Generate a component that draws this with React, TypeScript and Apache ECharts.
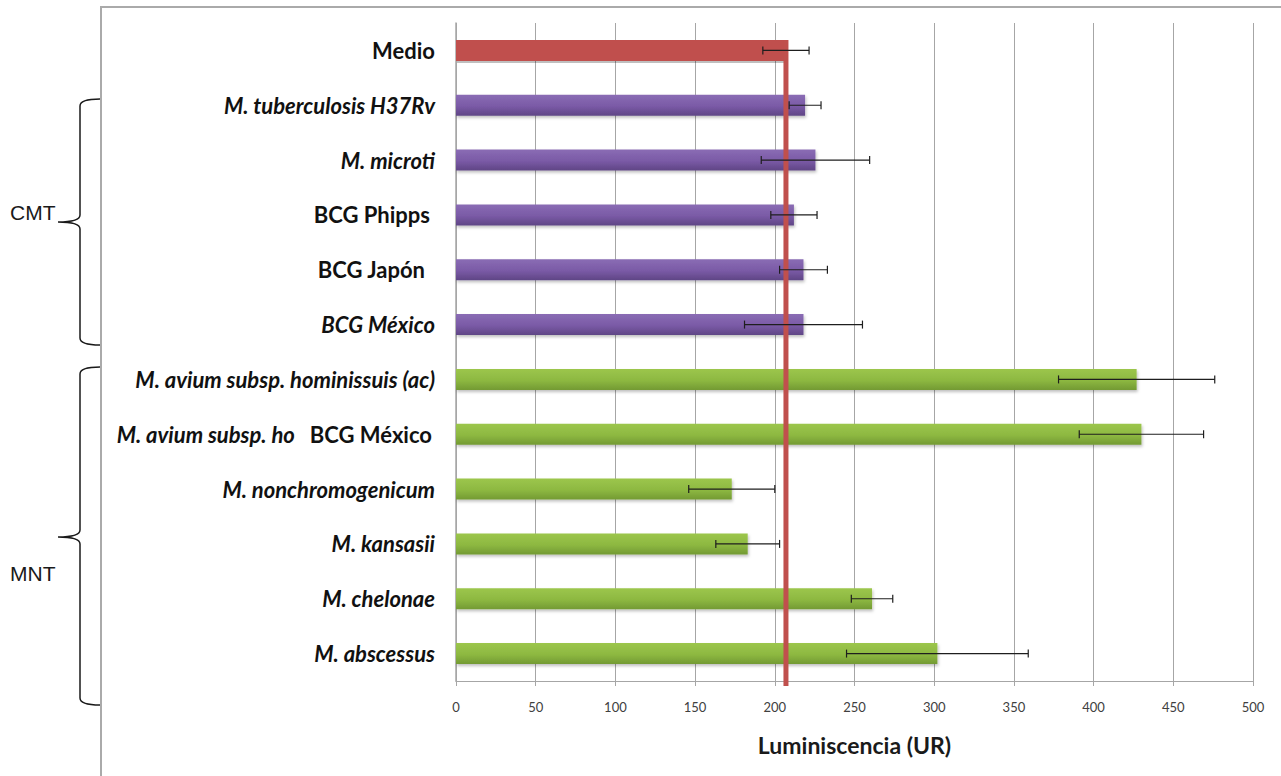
import React, { useEffect, useRef } from "react";
import * as echarts from "echarts";

// Strains on the vertical axis, top to bottom
const categories = [
  "Medio",
  "M. tuberculosis H37Rv",
  "M. microti",
  "BCG Phipps",
  "BCG Japón",
  "BCG México",
  "M. avium subsp. hominissuis (ac)",
  "M. avium subsp. ho BCG México",
  "M. nonchromogenicum",
  "M. kansasii",
  "M. chelonae",
  "M. abscessus",
];

// Mean luminescence (UR) and its error
const values = [207, 219, 225.5, 212, 218, 218, 427, 430, 173, 183, 261, 302];
const errors = [14.5, 10, 34, 14.5, 15, 37, 49, 39, 27, 20, 13, 57];

// Group of each strain: medium, tuberculosis complex, non-tuberculous
const groups = ["medio", "cmt", "cmt", "cmt", "cmt", "cmt", "mnt", "mnt", "mnt", "mnt", "mnt", "mnt"];

const xTicks = { min: 0, max: 500, interval: 50 };

const FONT = "Lato, 'Open Sans', sans-serif";

const groupColor: Record<string, any> = {
  medio: "#c0504d",
  cmt: new echarts.graphic.LinearGradient(0, 0, 0, 1, [
    { offset: 0, color: "#8a6cb4" },
    { offset: 0.55, color: "#7a5aa6" },
    { offset: 1, color: "#5f4585" },
  ]),
  mnt: new echarts.graphic.LinearGradient(0, 0, 0, 1, [
    { offset: 0, color: "#9cc64c" },
    { offset: 0.55, color: "#8db841" },
    { offset: 1, color: "#739a33" },
  ]),
};

// Curly braces grouping the strains
echarts.graphic.registerShape(
  "braceCmt",
  echarts.graphic.extendPath(
    "M100 99 Q80 99 80 106 L80 215 Q80 222 58 222 Q80 222 80 229 L80 338 Q80 345 100 345",
    {}
  )
);
echarts.graphic.registerShape(
  "braceMnt",
  echarts.graphic.extendPath(
    "M100 367 Q80 367 80 374 L80 530 Q80 537 58 537 Q80 537 80 544 L80 698 Q80 705 100 705",
    {}
  )
);

function formatCategory(value: string, index: number): string {
  if (index === 7) {
    return "{bi|M. avium subsp. ho}{gap|}{b|BCG México}{pad3|}";
  }
  if (index === 3) return `{b|${value}}{pad5|}`;
  if (index === 4) return `{b|${value}}{pad10|}`;
  if (index === 0) return `{b|${value}}`;
  return `{bi|${value}}`;
}

export default function App() {
  const ref = useRef<HTMLDivElement>(null);

  useEffect(() => {
    if (!ref.current) return;
    const chart = echarts.init(ref.current, undefined, { renderer: "svg" });
    const BAR = 21;
    const LABEL_SIZE = 22;

    chart.setOption({
      animation: false,
      backgroundColor: "#ffffff",
      grid: { left: 456, right: 28, top: 23, bottom: 95, containLabel: false },
      xAxis: {
        type: "value",
        min: xTicks.min,
        max: xTicks.max,
        interval: xTicks.interval,
        name: "Luminiscencia (UR)",
        nameLocation: "middle",
        nameGap: 52,
        nameTextStyle: { fontFamily: FONT, fontSize: 23, fontWeight: "bold", color: "#1a1a1a" },
        axisLine: { show: true, lineStyle: { color: "#a6a6a6", width: 1 } },
        axisTick: { show: true, length: 5, lineStyle: { color: "#a6a6a6" } },
        axisLabel: { fontFamily: FONT, fontSize: 13, color: "#404040", margin: 19 },
        splitLine: { show: true, lineStyle: { color: "#a6a6a6", width: 1 } },
      },
      yAxis: {
        type: "category",
        inverse: true,
        data: categories,
        axisLine: { show: true, lineStyle: { color: "#a6a6a6", width: 1.5 } },
        axisTick: { show: false },
        splitLine: { show: false },
        axisLabel: {
          margin: 21,
          formatter: formatCategory,
          rich: {
            b: { fontFamily: FONT, fontSize: LABEL_SIZE, fontWeight: "bold", color: "#111" },
            bi: { fontFamily: FONT, fontSize: LABEL_SIZE, fontWeight: "bold", fontStyle: "italic", color: "#111" },
            gap: { width: 15 },
            pad3: { width: 3 },
            pad5: { width: 5 },
            pad10: { width: 10 },
          },
        },
      },
      series: [
        {
          type: "bar",
          barWidth: BAR,
          data: values.map((v, i) => ({
            value: v,
            itemStyle: {
              color: groupColor[groups[i]],
              shadowBlur: groups[i] === "medio" ? 0 : 3,
              shadowOffsetY: 2,
              shadowOffsetX: 1,
              shadowColor: "rgba(0,0,0,0.25)",
            },
          })),
          z: 2,
        },
        {
          // vertical reference line at the medium value
          type: "custom",
          z: 3,
          data: [[values[0], 0]],
          encode: { x: 0, y: 1 },
          renderItem: (params: any, api: any) => {
            const p = api.coord([api.value(0), api.value(1)]);
            const cs = params.coordSys;
            const top = p[1] - BAR / 2;
            const bottom = cs.y + cs.height + 5;
            return {
              type: "rect",
              shape: { x: p[0] - 2.5, y: top, width: 5, height: bottom - top },
              style: { fill: "#c0504d" },
            };
          },
        },
        {
          // error bars
          type: "custom",
          z: 4,
          data: values.map((v, i) => [v - errors[i], v + errors[i], i]),
          encode: { x: [0, 1], y: 2 },
          renderItem: (params: any, api: any) => {
            const a = api.coord([api.value(0), api.value(2)]);
            const b = api.coord([api.value(1), api.value(2)]);
            const h = 4;
            const style = { stroke: "#1e1e1e", lineWidth: 1.2 };
            return {
              type: "group",
              children: [
                { type: "line", shape: { x1: a[0], y1: a[1], x2: b[0], y2: b[1] }, style },
                { type: "line", shape: { x1: a[0], y1: a[1] - h, x2: a[0], y2: a[1] + h }, style },
                { type: "line", shape: { x1: b[0], y1: b[1] - h, x2: b[0], y2: b[1] + h }, style },
              ],
            };
          },
        },
      ],
      graphic: [
        {
          type: "polyline",
          shape: { points: [[101, 800], [101, 7], [1290, 7]] },
          style: { stroke: "#aaaaaa", lineWidth: 2, fill: null },
          silent: true,
        },
        {
          type: "braceCmt",
          x: 0,
          y: 0,
          style: { stroke: "#1a1a1a", lineWidth: 1.5, fill: null },
          silent: true,
        },
        {
          type: "braceMnt",
          x: 0,
          y: 0,
          style: { stroke: "#1a1a1a", lineWidth: 1.5, fill: null },
          silent: true,
        },
        {
          type: "text",
          x: 10,
          y: 212,
          style: {
            text: "CMT",
            fontFamily: "'Liberation Sans', Arial, sans-serif",
            fontSize: 21,
            fill: "#1a1a1a",
            verticalAlign: "middle",
          },
        },
        {
          type: "text",
          x: 10,
          y: 573,
          style: {
            text: "MNT",
            fontFamily: "'Liberation Sans', Arial, sans-serif",
            fontSize: 21,
            fill: "#1a1a1a",
            verticalAlign: "middle",
          },
        },
      ],
    });

    return () => chart.dispose();
  }, []);

  return (
    <div
      ref={ref}
      style={{ position: "fixed", left: 0, top: 0, width: 1281, height: 776 }}
    />
  );
}
